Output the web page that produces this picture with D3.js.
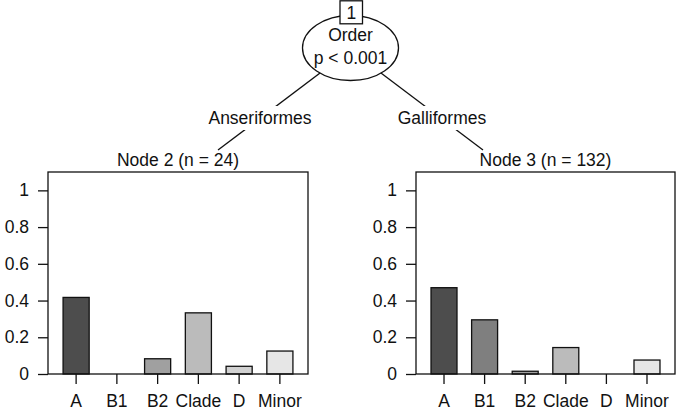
<!DOCTYPE html>
<html>
<head>
<meta charset="utf-8">
<script src="https://cdn.jsdelivr.net/npm/d3@7"></script>
<style>
  body { margin: 0; background: #fff; }
  svg text { font-family: "Liberation Sans", Arial, sans-serif; fill: #111; }
</style>
</head>
<body>
<div id="app"></div>
<script>
const OUTER = { width: 680, height: 412 }
const FONT = 17.5

// data
const categories = ["A", "B1", "B2", "Clade", "D", "Minor"]
const node2Values = [0.417, 0, 0.083, 0.333, 0.042, 0.125]
const node3Values = [0.470, 0.295, 0.015, 0.144, 0, 0.076]
const yTicks = [0, 0.2, 0.4, 0.6, 0.8, 1]
const yTickLabels = ["0", "0.2", "0.4", "0.6", "0.8", "1"]
const barColors = ["#4d4d4d", "#7f7f7f", "#a0a0a0", "#bbbbbb", "#d1d1d1", "#e6e6e6"]
const splitVar = "Order"
const splitP = "p < 0.001"
const edgeLabels = ["Anseriformes", "Galliformes"]
const nodeTitles = ["Node 2 (n = 24)", "Node 3 (n = 132)"]

// layout
const ROOT = { x: 350.5, y: 48, rx: 48, ry: 32.5 }
const PANELS = [
  { left: 48, right: 308, top: 172, bottom: 374, edgeEnd: [218, 150], label: [260, 118] },
  { left: 416, right: 675, top: 172, bottom: 374, edgeEnd: [483, 150], label: [442, 118] },
]

const svg = d3.select('#app')
  .append('svg')
  .attr('width', OUTER.width)
  .attr('height', OUTER.height);

// edges first, so labels and nodes sit on top
PANELS.forEach((p, i) => {
  svg.append('line')
    .attr('x1', ROOT.x).attr('y1', ROOT.y + 2)
    .attr('x2', p.edgeEnd[0]).attr('y2', p.edgeEnd[1])
    .attr('stroke', '#111')
    .attr('stroke-width', 1.3);

  const t = svg.append('text')
    .attr('x', p.label[0])
    .attr('y', p.label[1])
    .attr('text-anchor', 'middle')
    .attr('dominant-baseline', 'central')
    .attr('font-size', FONT)
    .text(edgeLabels[i]);
  const bb = t.node().getBBox();
  svg.insert('rect', () => t.node())
    .attr('x', bb.x - 2).attr('y', bb.y - 2)
    .attr('width', bb.width + 4).attr('height', bb.height + 4)
    .attr('fill', '#fff');
});

// root node
svg.append('ellipse')
  .attr('cx', ROOT.x).attr('cy', ROOT.y)
  .attr('rx', ROOT.rx).attr('ry', ROOT.ry)
  .attr('fill', '#fff')
  .attr('stroke', '#111')
  .attr('stroke-width', 1.3);
svg.append('text')
  .attr('x', ROOT.x).attr('y', 41)
  .attr('text-anchor', 'middle')
  .attr('font-size', FONT)
  .text(splitVar);
svg.append('text')
  .attr('x', ROOT.x).attr('y', 63.5)
  .attr('text-anchor', 'middle')
  .attr('font-size', FONT)
  .text(splitP);
svg.append('rect')
  .attr('x', 340).attr('y', 0.8)
  .attr('width', 22.5).attr('height', 23)
  .attr('fill', '#fff')
  .attr('stroke', '#111')
  .attr('stroke-width', 1.3);
svg.append('text')
  .attr('x', 351.3).attr('y', 19)
  .attr('text-anchor', 'middle')
  .attr('font-size', FONT)
  .text("1");

const addPanel = (p, values, title) => {
  const x = d3.scaleBand()
    .domain(categories)
    .range([p.left, p.right])
    .paddingInner(0.36)
    .paddingOuter(0.37);
  const y = d3.scaleLinear()
    .domain([0, 1.1])
    .range([p.bottom, p.top]);

  const g = svg.append('g');

  g.append('text')
    .attr('x', (p.left + p.right) / 2)
    .attr('y', p.top - 6)
    .attr('text-anchor', 'middle')
    .attr('font-size', FONT)
    .text(title);

  g.selectAll('rect.bar')
    .data(values)
    .join('rect')
    .attr('class', 'bar')
    .attr('x', (d, i) => x(categories[i]))
    .attr('y', d => y(d))
    .attr('width', x.bandwidth())
    .attr('height', d => y(0) - y(d))
    .attr('fill', (d, i) => barColors[i])
    .attr('stroke', d => d > 0 ? '#111' : 'none')
    .attr('stroke-width', 1.3);

  g.append('rect')
    .attr('x', p.left).attr('y', p.top)
    .attr('width', p.right - p.left)
    .attr('height', p.bottom - p.top)
    .attr('fill', 'none')
    .attr('stroke', '#111')
    .attr('stroke-width', 1.3);

  const yAxis = g.append('g')
    .attr('transform', `translate(${p.left}, 0)`)
    .call(d3.axisLeft(y).tickValues(yTicks).tickSize(10).tickPadding(9)
      .tickFormat((d, i) => yTickLabels[i]));
  const xAxis = g.append('g')
    .attr('transform', `translate(0, ${p.bottom})`)
    .call(d3.axisBottom(x).tickSize(10).tickPadding(11));

  [yAxis, xAxis].forEach(a => {
    a.select('.domain').remove();
    a.selectAll('line').attr('stroke', '#111').attr('stroke-width', 1.3);
    a.selectAll('text')
      .attr('font-size', FONT)
      .attr('font-family', '"Liberation Sans", Arial, sans-serif')
      .attr('fill', '#111');
  });
}

addPanel(PANELS[0], node2Values, nodeTitles[0]);
addPanel(PANELS[1], node3Values, nodeTitles[1]);
</script>
</body>
</html>
